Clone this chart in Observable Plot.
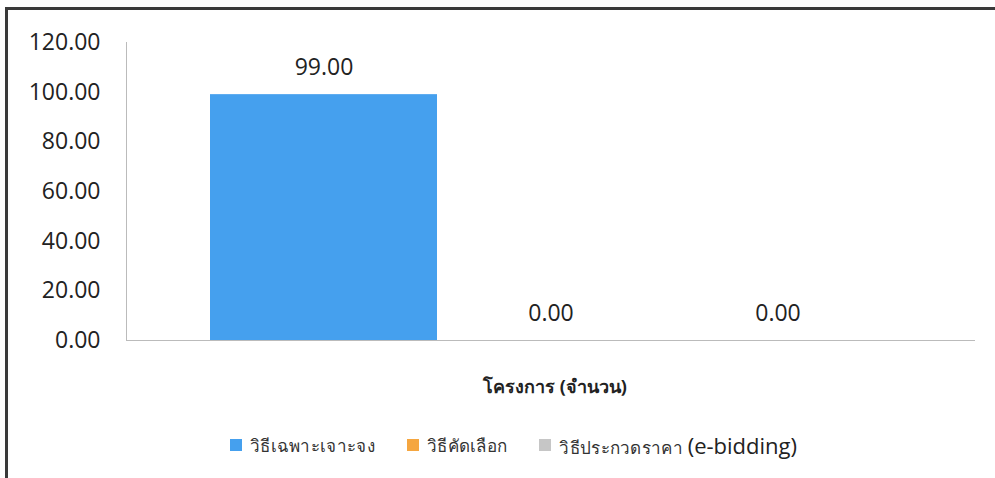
<!DOCTYPE html>
<html>
<head>
<meta charset="utf-8">
<script src="https://cdn.jsdelivr.net/npm/d3@7"></script>
<script src="https://cdn.jsdelivr.net/npm/@observablehq/plot@0.6"></script>
<style>
  html, body { margin: 0; padding: 0; background: #fff; }
  #wrap { position: relative; width: 995px; height: 478px; overflow: hidden; font-family: "Open Sans", "Noto Sans", sans-serif; }
  #border { position: absolute; left: 5px; top: 7px; width: 995px; height: 480px; border-top: 3px solid #3a3a3a; border-left: 3px solid #3a3a3a; box-sizing: border-box; }
  #chart { position: absolute; left: 0; top: 0; }
  #legend { position: absolute; left: 230px; top: 430px; height: 30px; display: flex; align-items: center; gap: 32px; font-size: 17px; letter-spacing: 0.3px; color: #333; }
  .item { display: flex; align-items: center; gap: 8px; }
  .sw { width: 12px; height: 12px; display: inline-block; }
  .big { font-size: 22px; letter-spacing: 0; color: #222; }
</style>
</head>
<body>
<div id="wrap">
  <div id="border"></div>
  <div id="chart"></div>
  <div id="legend"></div>
</div>
<script>
const series = ["วิธีเฉพาะเจาะจง", "วิธีคัดเลือก", "วิธีประกวดราคา (e-bidding)"];
const values = [99, 0, 0];
const colors = ["#45a0ee", "#f5a640", "#c6c6c6"];
const yTicks = [0, 20, 40, 60, 80, 100, 120];
const xLabel = "โครงการ (จำนวน)";

const data = series.map((s, i) => ({series: s, value: values[i]}));

const chart = Plot.plot({
  width: 995,
  height: 410,
  marginTop: 42,
  marginBottom: 70,
  marginLeft: 126,
  marginRight: 20,
  style: {fontFamily: "'Open Sans', 'Noto Sans', sans-serif", fontSize: "23px", color: "#222", background: "transparent"},
  x: {domain: series, paddingInner: 0, paddingOuter: 0.37, axis: null},
  y: {domain: [0, 120], ticks: yTicks, tickFormat: d3.format(".2f")},
  color: {domain: series, range: colors},
  marks: [
    Plot.axisY({ticks: yTicks, tickSize: 0, tickPadding: 26, tickFormat: d3.format(".2f"), label: null, fontSize: 23}),
    Plot.frame({anchor: "left", stroke: "#bbb"}),
    Plot.barY(data, {x: "series", y: "value", fill: "series"}),
    Plot.ruleY([0], {stroke: "#bbb"}),
    Plot.text(data, {x: "series", y: "value", text: d => d3.format(".2f")(d.value), lineAnchor: "bottom", dy: -20, fontSize: 23, fill: "#222"}),
    Plot.text([xLabel], {frameAnchor: "bottom", dy: 52, dx: 4, fontSize: 18, fontWeight: "bold", fill: "#222", text: d => d, x: null})
  ]
});
document.getElementById("chart").appendChild(chart);

const legend = document.getElementById("legend");
series.forEach((s, i) => {
  const item = document.createElement("div");
  item.className = "item";
  const sw = document.createElement("span");
  sw.className = "sw";
  sw.style.background = colors[i];
  item.appendChild(sw);
  const t = document.createElement("span");
  const m = s.match(/^(.*?)(\(.*\))$/);
  if (m) {
    t.appendChild(document.createTextNode(m[1]));
    const b = document.createElement("span");
    b.className = "big";
    b.textContent = m[2];
    t.appendChild(b);
  } else {
    t.textContent = s;
  }
  item.appendChild(t);
  legend.appendChild(item);
});
</script>
</body>
</html>
